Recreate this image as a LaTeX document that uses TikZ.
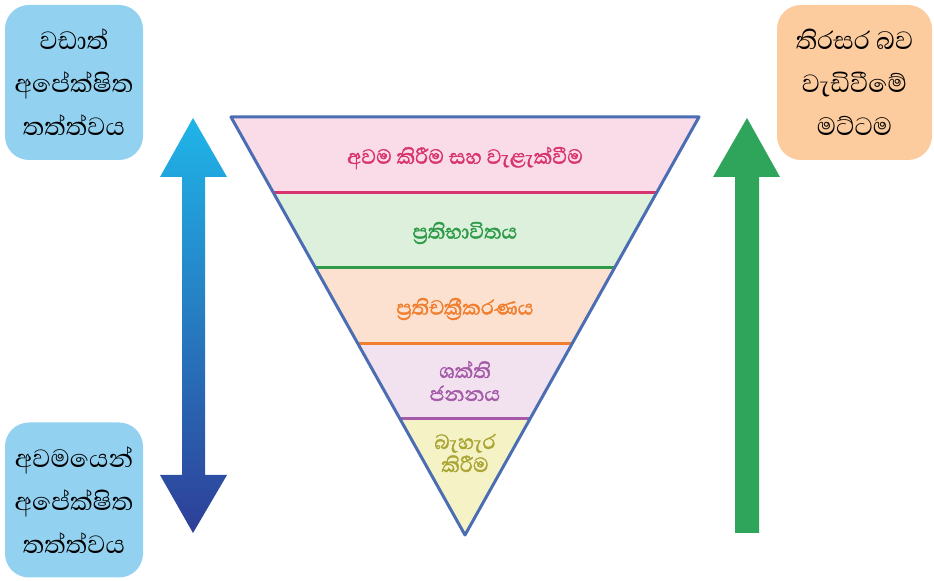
\documentclass[tikz,border=0pt]{standalone}
\usepackage{fontspec}
\newfontfamily\sinhala[Script=Sinhala, AutoFakeBold=1.6]{Abhaya Libre}
\usetikzlibrary{calc}
\definecolor{boxblue}{HTML}{93D1F1}
\definecolor{boxpeach}{HTML}{FCCB9E}
\definecolor{edgeblue}{HTML}{4B6DB3}
\definecolor{pinkfill}{HTML}{F9DCE8}
\definecolor{pinkline}{HTML}{D9336F}
\definecolor{greenfill}{HTML}{DDF0DB}
\definecolor{greenline}{HTML}{2E9B4A}
\definecolor{orangefill}{HTML}{FDE1D0}
\definecolor{orangeline}{HTML}{F07E2E}
\definecolor{purplefill}{HTML}{F2E1EF}
\definecolor{purpleline}{HTML}{A45AA8}
\definecolor{yellowfill}{HTML}{F5F3C6}
\definecolor{olivetext}{HTML}{ABA536}
\definecolor{arrowtop}{HTML}{1FB5E8}
\definecolor{arrowmid}{HTML}{1A7FC0}
\definecolor{arrowbot}{HTML}{2E3F98}
\definecolor{arrowgreen}{HTML}{2EA55A}
\tikzset{
  sidebox/.style={rounded corners=12pt, minimum width=69pt, minimum height=77.5pt,
    align=center, font=\sinhala\fontsize{16}{21.5}\selectfont},
  bandtext/.style={align=center, font=\sinhala\bfseries\fontsize{13}{11.5}\selectfont}
}
\begin{document}
\begin{tikzpicture}[x=0.5pt, y=-0.5pt]
      \useasboundingbox (0,0) rectangle (934,581);
      % funnel
      \coordinate (tl) at (231,117);
      \coordinate (tr) at (699,117);
      \coordinate (ap) at (465,535);
      \foreach \f [count=\i] in {0.1818,0.3612,0.5407,0.7225} {
        \coordinate (l\i) at ($(tl)!\f!(ap)$);
        \coordinate (r\i) at ($(tr)!\f!(ap)$);
      }
      \fill[pinkfill] (tl) -- (tr) -- (r1) -- (l1) -- cycle;
      \fill[greenfill] (l1) -- (r1) -- (r2) -- (l2) -- cycle;
      \fill[orangefill] (l2) -- (r2) -- (r3) -- (l3) -- cycle;
      \fill[purplefill] (l3) -- (r3) -- (r4) -- (l4) -- cycle;
      \fill[yellowfill] (l4) -- (r4) -- (ap) -- cycle;
      \draw[pinkline, line width=1.5pt] (l1) -- (r1);
      \draw[greenline, line width=1.5pt] (l2) -- (r2);
      \draw[orangeline, line width=1.5pt] (l3) -- (r3);
      \draw[purpleline, line width=1.5pt] (l4) -- (r4);
      \draw[edgeblue, line width=1.5pt, line join=round] (tl) -- (tr) -- (ap) -- cycle;
      \node[bandtext, text=pinkline] (avama) at (465,158) {අවම කිරීම සහ වැළැක්වීම};
      \node[bandtext, text=greenline] (reuse) at (465,233) {ප්‍රතිභාවිතය};
      \node[bandtext, text=orangeline] (recycle) at (465,309) {ප්‍රතිචක්‍රීකරණය};
      \node[bandtext, text=purpleline] (energy) at (465,381) {ශක්ති\\ජනනය};
      \node[bandtext, text=olivetext] (dispose) at (465,453) {බැහැර\\කිරීම};
      % arrows
      \shade[top color=arrowtop, middle color=arrowmid, bottom color=arrowbot]
        (193,118) -- (227,177) -- (205,177) -- (205,475) -- (227,475) -- (193,533)
        -- (160,475) -- (182,475) -- (182,177) -- (160,177) -- cycle;
      \fill[arrowgreen] (747,118) -- (780,177) -- (759,177) -- (759,533)
        -- (735,533) -- (735,177) -- (713,177) -- cycle;
      % side boxes
      \node[sidebox, fill=boxblue] (most) at (74,82.5) {වඩාත්\\අපේක්ෂිත\\තත්ත්වය};
      \node[sidebox, fill=boxblue] (least) at (74,500) {අවමයෙන්\\අපේක්ෂිත\\තත්ත්වය};
      \node[sidebox, fill=boxpeach, minimum width=77.5pt] (level) at (854.5,82.5) {තිරසර බව\\වැඩිවීමේ\\මට්ටම};
    \end{tikzpicture}
\end{document}
